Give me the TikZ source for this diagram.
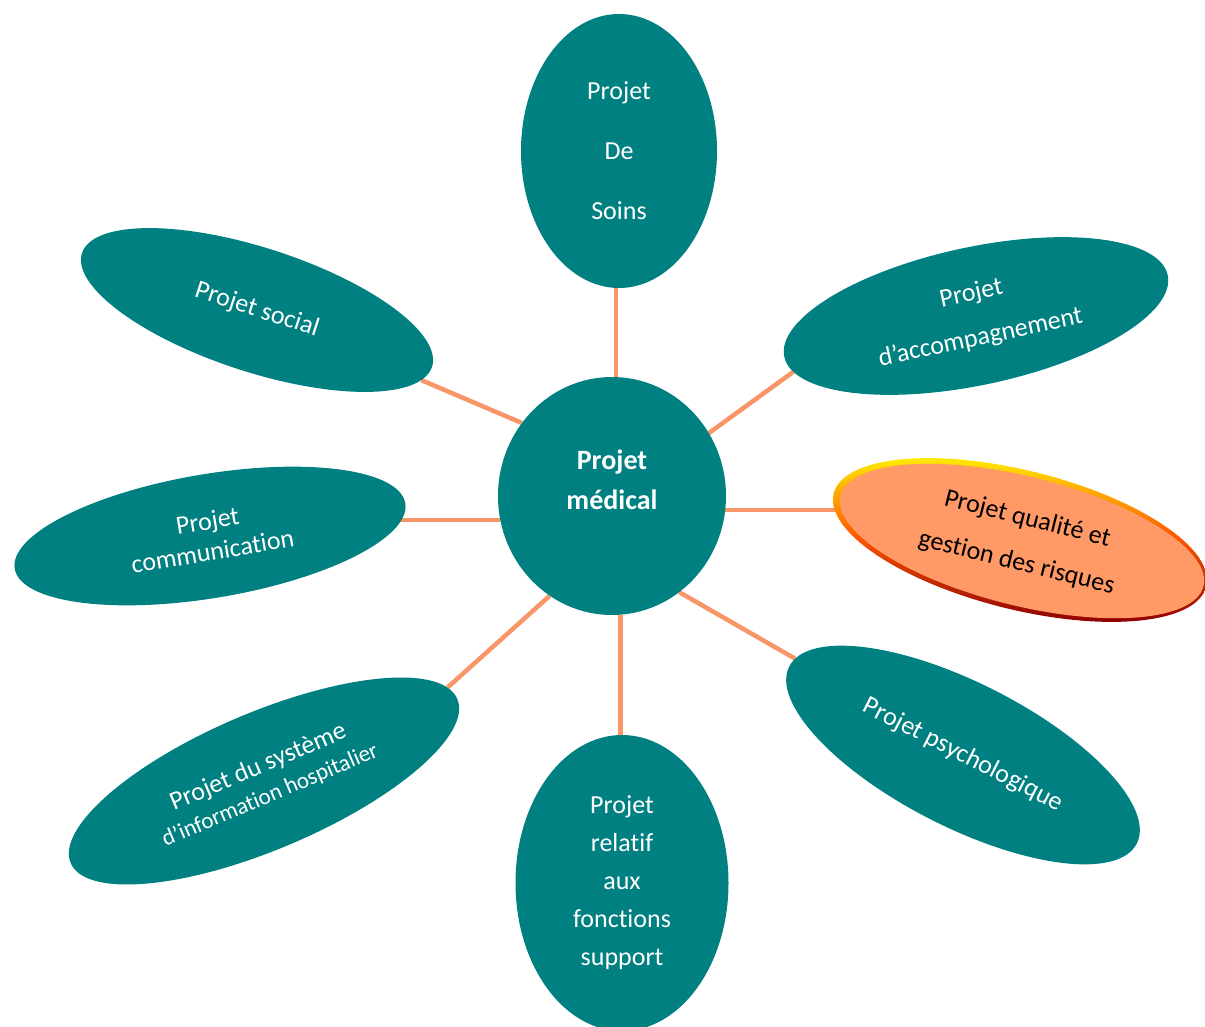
\documentclass[tikz,border=0pt]{standalone}
\usepackage{fontspec}
\setmainfont{Carlito}[Ligatures=NoCommon]
\usetikzlibrary{shapes.geometric,backgrounds}
\definecolor{sarcelle}{RGB}{0,128,128}
\definecolor{lien}{RGB}{249,150,104}
\definecolor{saumon}{RGB}{255,153,102}
\begin{document}
\begin{tikzpicture}[x=1pt,y=-1pt,%
        every node/.style={font=\fontsize{26}{31}\selectfont,text=white,
          align=center,inner sep=0pt}, bulle/.style={ellipse,fill=sarcelle,
          inner sep=0pt}, lien/.style={draw=lien,line width=4.5pt}]%
        \useasboundingbox (0,0) rectangle (1205,1026);
        \node[bulle,minimum width=196,minimum height=274,
        font=\fontsize{26}{60}\selectfont] (soins) at (619,151)
        {Projet\\De\\Soins}; \node[bulle,rotate=-18,minimum width=368,
        minimum height=124] (social) at (257,310) {Projet social};
        \node[bulle,rotate=12,minimum width=392,minimum height=138,
        font=\fontsize{26}{45}\selectfont] (accomp) at (976,316)
        {Projet\\d’accompagnement}; \node[ellipse,rotate=-14,minimum
        width=384,minimum height=139,top color=yellow,bottom
        color=red!55!black,middle color=orange!70!red] (qring) at (1020,540)
        {}; \node[bulle,fill=saumon,rotate=-14,minimum width=374,minimum
        height=129,text=black,font=\fontsize{26}{45}\selectfont] (qualite)
        at (1022,541) {Projet qualité et\\gestion des risques};
        \node[bulle,rotate=9.5,minimum width=396,minimum height=124] (comm)
        at (210,536) {Projet\\communication}; \node[bulle,rotate=23,minimum
        width=420,minimum height=137,font=\fontsize{26}{30}\selectfont] (sih)
        at (264,781) {Projet du système\\{\fontsize{23}{30}\selectfont
          d’information hospitalier}}; \node[bulle,rotate=-27,minimum
        width=390,minimum height=144] (psy) at (963,755) {Projet
          psychologique}; \node[bulle,minimum width=213,minimum height=296,
        font=\fontsize{26}{38}\selectfont] (support) at (622,883)
        {Projet\\relatif\\aux\\fonctions\\support}; \node[bulle,minimum
        width=228,minimum height=238] (med) at (612,496) {};
        \node[font=\bfseries\fontsize{28}{40}\selectfont] (medtxt) at
        ([yshift=16pt]med.center) {Projet\\médical};
        \begin{scope}[on background layer]
          \draw[lien] (med.88) -- (med.88 |- soins.south);
          \draw[lien] (med.141) -- (social);
          \draw[lien] (med.33) -- (accomp.185);
          \draw[lien] (med.-7.5) -- (med.-7.5 -| qring.center);
          \draw[lien] (med.192.6) -- (med.192.6 -| comm.center);
          \draw[lien] (med.238) -- (sih.4);
          \draw[lien] (med.-86.5) -- (med.-86.5 |- support.center);
          \draw[lien] (med.-55) -- (psy);
        \end{scope}
      \end{tikzpicture}
\end{document}
